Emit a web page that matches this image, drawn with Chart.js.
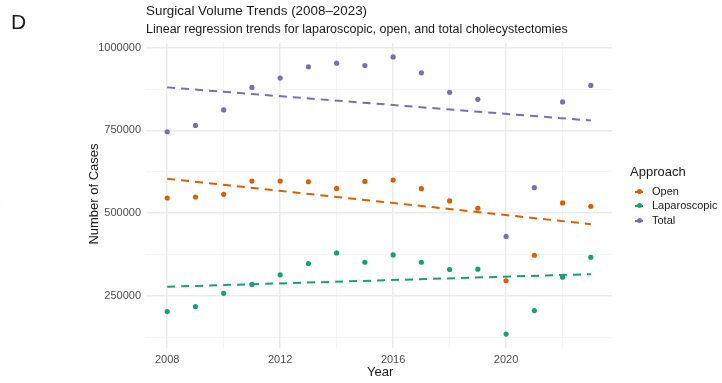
<!DOCTYPE html>
<html>
<head>
<meta charset="utf-8">
<script src="https://cdn.jsdelivr.net/npm/chart.js@4.4.1/dist/chart.umd.min.js"></script>
<style>
    body { margin: 0; background: #fff; font-family: 'Liberation Sans', Arial, sans-serif; }
    #wrap { position: relative; width: 722px; height: 383px; overflow: hidden; }
    #chart { position: absolute; left: 0; top: 0; }
    .txt { position: absolute; white-space: nowrap; color: #1a1a1a; }
    .legend-item { position: absolute; left: 634px; font-size: 11px; color: #1a1a1a; }
    .legend-item .key { position: absolute; left: 1px; top: 6px; width: 8px; height: 2px; }
    .legend-item .dot { position: absolute; left: 3px; top: 4px; width: 5px; height: 5px; border-radius: 50%; }
    .legend-item .lbl { position: absolute; left: 18px; top: 0; }
</style>
</head>
<body>
<div id="wrap">
    <canvas id="chart" width="722" height="383"></canvas>
    <div class="txt" style="left:11px; top:10px; font-size:21px;">D</div>
    <div class="txt" style="left:146px; top:3px; font-size:13.4px;">Surgical Volume Trends (2008–2023)</div>
    <div class="txt" style="left:146px; top:22px; font-size:12.5px;">Linear regression trends for laparoscopic, open, and total cholecystectomies</div>
    <div class="txt" style="left:-2px; top:199px; font-size:8px; color:#999;">t</div>
    <div class="txt" style="left:93px; top:194px; font-size:13px; transform: translate(-50%, -50%) rotate(-90deg);">Number of Cases</div>
    <div class="txt" style="left:367px; top:364px; font-size:13px;">Year</div>
    <div class="txt" style="left:630px; top:164px; font-size:13px;">Approach</div>
    <div id="legend"></div>
</div>
<script>
// values
const years = [2008, 2009, 2010, 2011, 2012, 2013, 2014, 2015, 2016, 2017, 2018, 2019, 2020, 2021, 2022, 2023];
const openCases = [546000, 549000, 557000, 597000, 597000, 595000, 575000, 596000, 600000, 574000, 537000, 515000, 296000, 373000, 531000, 521000];
const lapCases = [203000, 218000, 258000, 285000, 314000, 348000, 380000, 352000, 374000, 352000, 330000, 331000, 135000, 206000, 307000, 367000];
const totalCases = [746000, 765000, 812000, 880000, 908000, 942000, 953000, 946000, 972000, 924000, 865000, 844000, 430000, 577000, 836000, 886000];

// regression line ends (2008 and 2023)
const trendYears = [2008, 2023];
const openTrend = [604000, 467000];
const lapTrend = [278000, 316000];
const totalTrend = [880000, 780000];

const xTicks = [2008, 2010, 2012, 2014, 2016, 2018, 2020, 2022];
const yTicks = [125000, 250000, 375000, 500000, 625000, 750000, 875000, 1000000];

const series = [
    { name: 'Open', values: openCases, trend: openTrend, color: '#D95F02' },
    { name: 'Laparoscopic', values: lapCases, trend: lapTrend, color: '#1B9E77' },
    { name: 'Total', values: totalCases, trend: totalTrend, color: '#7570B3' }
];

const toPoints = (xs, ys) => xs.map((x, i) => ({ x: x, y: ys[i] }));

const datasets = [];
series.forEach(s => {
    datasets.push({
        type: 'scatter',
        label: s.name,
        data: toPoints(years, s.values),
        backgroundColor: s.color,
        borderColor: s.color,
        pointRadius: 2.6,
        pointHoverRadius: 2.6,
        borderWidth: 0
    });
    datasets.push({
        type: 'line',
        label: s.name + ' trend',
        data: toPoints(trendYears, s.trend),
        borderColor: s.color,
        borderWidth: 2,
        borderDash: [8, 6],
        pointRadius: 0,
        fill: false
    });
});

// legend
const legend = document.getElementById('legend');
series.forEach((s, i) => {
    const item = document.createElement('div');
    item.className = 'legend-item';
    item.style.top = (185 + i * 14.3) + 'px';
    item.innerHTML = '<span class="key" style="background:' + s.color + '"></span>' +
        '<span class="dot" style="background:' + s.color + '"></span>' +
        '<span class="lbl">' + s.name + '</span>';
    legend.appendChild(item);
});

const isMajorX = v => (v - 2008) % 4 === 0;
const isMajorY = v => v % 250000 === 0;

new Chart(document.getElementById('chart'), {
    data: { datasets: datasets },
    options: {
        responsive: false,
        animation: false,
        layout: { padding: { left: 0, top: 43, right: 110, bottom: 0 } },
        plugins: { legend: { display: false }, tooltip: { enabled: false } },
        scales: {
            x: {
                type: 'linear',
                min: 2007.25,
                max: 2023.75,
                afterBuildTicks: axis => { axis.ticks = xTicks.map(v => ({ value: v })); },
                afterFit: axis => { axis.height = 35; },
                border: { display: false },
                grid: {
                    drawTicks: false,
                    color: ctx => isMajorX(ctx.tick.value) ? '#EBEBEB' : '#F3F3F3',
                    lineWidth: ctx => isMajorX(ctx.tick.value) ? 1.5 : 0.8
                },
                ticks: {
                    padding: 5,
                    color: '#4D4D4D',
                    font: { family: "'Liberation Sans', Arial", size: 11 },
                    maxRotation: 0,
                    autoSkip: false,
                    callback: v => isMajorX(v) ? String(v) : ''
                }
            },
            y: {
                type: 'linear',
                min: 93000,
                max: 1014000,
                afterBuildTicks: axis => { axis.ticks = yTicks.map(v => ({ value: v })); },
                afterFit: axis => { axis.width = 146; },
                border: { display: false },
                grid: {
                    drawTicks: false,
                    color: ctx => isMajorY(ctx.tick.value) ? '#EBEBEB' : '#F3F3F3',
                    lineWidth: ctx => isMajorY(ctx.tick.value) ? 1.5 : 0.8
                },
                ticks: {
                    padding: 5,
                    color: '#4D4D4D',
                    font: { family: "'Liberation Sans', Arial", size: 11 },
                    autoSkip: false,
                    callback: v => isMajorY(v) ? String(v) : ''
                }
            }
        }
    }
});
</script>
</body>
</html>
